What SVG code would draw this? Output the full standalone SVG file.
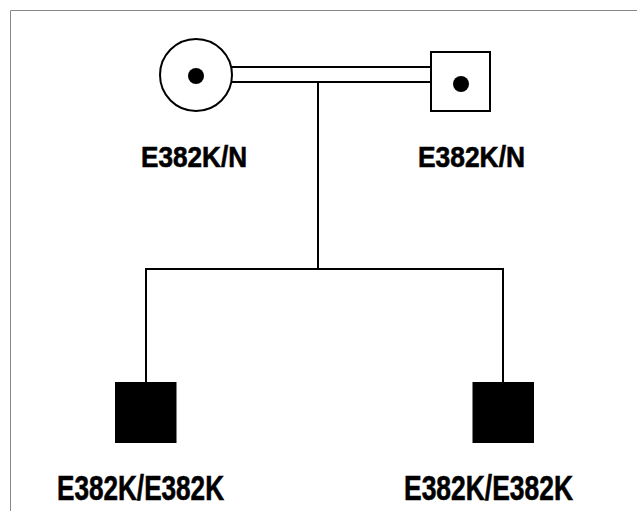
<svg xmlns="http://www.w3.org/2000/svg" width="637" height="511" viewBox="0 0 637 511">
<style>
.ln{stroke:#000;stroke-width:2;fill:none}
.sym{stroke:#000;stroke-width:2;fill:#fff}
.aff{fill:#000;stroke:#000;stroke-width:1}
.lbl{font-family:"Liberation Sans",Arial,sans-serif;font-weight:bold;fill:#000;stroke:#000;stroke-width:0.6}
.border{stroke:#888;stroke-width:1;fill:none}
</style>
<rect width="637" height="511" fill="#fff"/>
<path class="border" d="M10.5,511 V10.5 H637"/>
<g id="connectors">
<line class="ln" x1="232" y1="67" x2="431" y2="67"/>
<line class="ln" x1="232" y1="82" x2="431" y2="82"/>
<line class="ln" x1="318" y1="82" x2="318" y2="269"/>
<path class="ln" d="M146,382 V269 H503 V382"/>
</g>
<g id="mother">
<circle class="sym" cx="196" cy="75" r="36"/>
<circle cx="196" cy="76" r="8" fill="#000"/>
<text class="lbl" x="141" y="167" font-size="29" textLength="106" lengthAdjust="spacingAndGlyphs">E382K/N</text>
</g>
<g id="father">
<rect class="sym" x="431" y="52" width="59" height="59"/>
<circle cx="461" cy="84" r="8" fill="#000"/>
<text class="lbl" x="418" y="167" font-size="29" textLength="107" lengthAdjust="spacingAndGlyphs">E382K/N</text>
</g>
<g id="son1">
<rect class="aff" x="115.5" y="382.5" width="60.5" height="60"/>
<text class="lbl" x="57" y="500" font-size="35" textLength="167" lengthAdjust="spacingAndGlyphs">E382K/E382K</text>
</g>
<g id="son2">
<rect class="aff" x="473" y="382.5" width="60.5" height="60"/>
<text class="lbl" x="404" y="500" font-size="35" textLength="169" lengthAdjust="spacingAndGlyphs">E382K/E382K</text>
</g>
</svg>
